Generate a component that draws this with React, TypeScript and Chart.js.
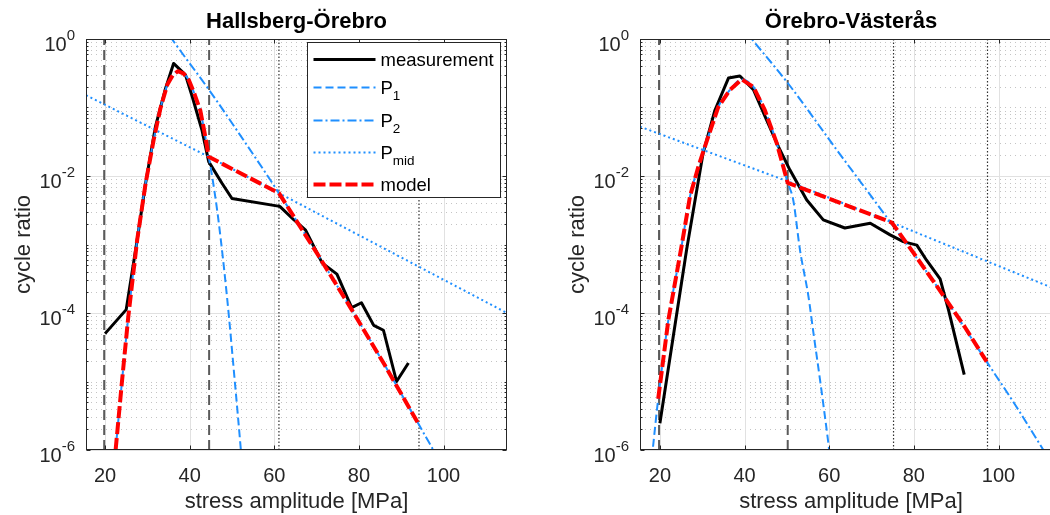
import React, { useEffect, useRef } from "react";
import { Chart, registerables } from "chart.js";

Chart.register(...registerables);

// ---------- axis settings ----------
const Y_MIN = 1e-6;
const Y_MAX = 1;
const X_TICKS = [20, 40, 60, 80, 100];
const Y_TICK_EXPONENTS = [0, -2, -4, -6];
const X_LABEL = "stress amplitude [MPa]";
const Y_LABEL = "cycle ratio";
const LEGEND_ITEMS = [
  { key: "measurement", base: "measurement", sub: "" },
  { key: "p1", base: "P", sub: "1" },
  { key: "p2", base: "P", sub: "2" },
  { key: "pmid", base: "P", sub: "mid" },
  { key: "model", base: "model", sub: "" },
];

// ---------- Hallsberg-Örebro ----------
const HO_TITLE = "Hallsberg-Örebro";
const HO_X_RANGE = [15.5, 115];
const HO_MEAS_X = [20, 25, 27.6, 29.6, 31.9, 34.3, 36.2, 39, 40.6, 42.9, 44.5, 47.6, 50, 61.3, 64.6, 67.4, 71.3, 74.8, 78.3, 80.6, 83.5, 85.8, 88.9, 91.7];
const HO_MEAS_Y = [5.0e-5, 1.12e-4, 1.17e-3, 7.9e-3, 5.2e-2, 0.19, 0.44, 0.3, 0.145, 0.047, 0.0162, 0.0079, 0.0047, 0.0036, 0.0023, 0.00162, 5.4e-4, 3.7e-4, 1.2e-4, 1.41e-4, 6.6e-5, 5.6e-5, 1.0e-5, 1.86e-5];
const HO_MODEL_X = [22.5, 24, 25.5, 27.6, 29.6, 31.5, 33.1, 34.7, 36, 37.2, 38.5, 39.8, 41, 42.5, 43.5, 44.5, 61.1, 70, 78, 86, 94];
const HO_MODEL_Y = [1e-6, 1e-5, 8.9e-5, 1.17e-3, 7.9e-3, 0.0339, 0.0977, 0.214, 0.295, 0.339, 0.316, 0.251, 0.166, 0.0912, 0.0437, 0.0191, 0.00562, 7.6e-4, 1.2e-4, 1.78e-5, 2.45e-6];
const HO_P1_X = [21.5, 22.5, 24, 25.5, 27.6, 29.6, 31.5, 33.1, 34.7, 36, 37.2, 38.5, 39.8, 41, 42.5, 43.5, 44.5, 45.3, 46.5, 47.4, 48.3, 49.2, 50.6, 52.1, 53];
const HO_P1_Y = [2.0e-7, 1e-6, 1e-5, 8.9e-5, 1.17e-3, 7.9e-3, 0.0339, 0.0977, 0.214, 0.295, 0.339, 0.316, 0.251, 0.166, 0.0912, 0.0437, 0.0191, 0.01, 3.16e-3, 1.12e-3, 3.55e-4, 1.0e-4, 1.12e-5, 1.0e-6, 2.0e-7];
const HO_P2_X = [33, 35.8, 44.6, 53, 61.1, 70, 78, 86, 94, 97.6, 99.5];
const HO_P2_Y = [1.78, 1.0, 0.18, 0.0316, 0.00562, 7.6e-4, 1.2e-4, 1.78e-5, 2.45e-6, 1.0e-6, 6.3e-7];
const HO_PMID_X = [15.5, 44.5, 61.1, 94, 115];
const HO_PMID_Y = [0.151, 0.0191, 0.00562, 4.8e-4, 1.0e-4];
const HO_DASHED_X = [19.8, 44.6];
const HO_DOTTED_X = [61.1, 94.2];

// ---------- Örebro-Västerås ----------
const OV_TITLE = "Örebro-Västerås";
const OV_X_RANGE = [15.3, 115];
const OV_MEAS_X = [20, 26.3, 30.2, 33, 36.2, 38.9, 42.1, 45.2, 48, 50.7, 54.7, 58.6, 63.7, 69.7, 74.4, 77.5, 80.7, 83, 86.2, 88.2, 91.9];
const OV_MEAS_Y = [2.45e-6, 8.3e-4, 0.0214, 0.0912, 0.269, 0.288, 0.182, 0.066, 0.0269, 0.0123, 0.00447, 0.00229, 0.00174, 0.00204, 0.00138, 0.0011, 9.8e-4, 5.9e-4, 3.16e-4, 1.1e-4, 1.26e-5];
const OV_MODEL_X = [19.6, 22, 25.1, 27.1, 29.1, 31.4, 33.8, 36.6, 39.3, 42.1, 44.8, 47.6, 50.2, 74.8, 80, 86, 92, 97.2];
const OV_MODEL_Y = [5.6e-6, 7.9e-5, 9.3e-4, 5.0e-3, 0.0138, 0.0372, 0.102, 0.182, 0.257, 0.2, 0.0912, 0.0302, 0.00794, 0.00209, 7.4e-4, 2.19e-4, 6.3e-5, 1.95e-5];
const OV_P1_X = [17.8, 18.3, 19.6, 22, 25.1, 27.1, 29.1, 31.4, 33.8, 36.6, 39.3, 42.1, 44.8, 47.6, 50.2, 51.5, 53.1, 55.1, 56.3, 58, 60, 61];
const OV_P1_Y = [5e-7, 1e-6, 5.6e-6, 7.9e-5, 9.3e-4, 5.0e-3, 0.0138, 0.0372, 0.102, 0.182, 0.257, 0.2, 0.0912, 0.0302, 0.00794, 0.00447, 8.3e-4, 1.74e-4, 5.0e-5, 8.9e-6, 1.0e-6, 3e-7];
const OV_P2_X = [40, 41.7, 50.3, 61.8, 74.4, 86, 97.2, 104, 110.6, 112];
const OV_P2_Y = [1.35, 1.0, 0.224, 0.024, 0.00214, 2.19e-4, 1.95e-5, 4.5e-6, 1.0e-6, 7.2e-7];
const OV_PMID_X = [15.3, 50.3, 74.8, 115];
const OV_PMID_Y = [0.0525, 0.00832, 0.00209, 2.04e-4];
const OV_DASHED_X = [19.8, 50.2];
const OV_DOTTED_X = [75.2, 97.4];

// ---------- styles ----------
const FF = '"Liberation Sans", Arial, Helvetica, sans-serif';
const TEXT_COLOR = "#262626";
const BLUE = "#1f8fff";
const STYLE: Record<string, { color: string; width: number; dash: number[] }> = {
  measurement: { color: "#000000", width: 3, dash: [] },
  p1: { color: BLUE, width: 2, dash: [8, 4] },
  p2: { color: BLUE, width: 2, dash: [9, 3, 2, 3] },
  pmid: { color: BLUE, width: 2, dash: [2, 3] },
  model: { color: "#ff0000", width: 4, dash: [12, 4] },
  vdash: { color: "#5a5a5a", width: 2, dash: [10, 5] },
  vdot: { color: "#303030", width: 1.2, dash: [1.5, 2] },
};

type Panel = {
  title: string;
  xRange: number[];
  canvasLeft: number;
  canvasWidth: number;
  padding: { left: number; top: number; right: number; bottom: number };
  showLegend: boolean;
  measX: number[]; measY: number[];
  modelX: number[]; modelY: number[];
  p1X: number[]; p1Y: number[];
  p2X: number[]; p2Y: number[];
  pmidX: number[]; pmidY: number[];
  dashedX: number[]; dottedX: number[];
};

const CANVAS_H = 515;

const PANELS: Panel[] = [
  {
    title: HO_TITLE, xRange: HO_X_RANGE, canvasLeft: 0, canvasWidth: 520,
    padding: { left: 86, top: 39, right: 13, bottom: 65 }, showLegend: true,
    measX: HO_MEAS_X, measY: HO_MEAS_Y, modelX: HO_MODEL_X, modelY: HO_MODEL_Y,
    p1X: HO_P1_X, p1Y: HO_P1_Y, p2X: HO_P2_X, p2Y: HO_P2_Y, pmidX: HO_PMID_X, pmidY: HO_PMID_Y,
    dashedX: HO_DASHED_X, dottedX: HO_DOTTED_X,
  },
  {
    title: OV_TITLE, xRange: OV_X_RANGE, canvasLeft: 530, canvasWidth: 550,
    padding: { left: 110, top: 39, right: 18, bottom: 65 }, showLegend: false,
    measX: OV_MEAS_X, measY: OV_MEAS_Y, modelX: OV_MODEL_X, modelY: OV_MODEL_Y,
    p1X: OV_P1_X, p1Y: OV_P1_Y, p2X: OV_P2_X, p2Y: OV_P2_Y, pmidX: OV_PMID_X, pmidY: OV_PMID_Y,
    dashedX: OV_DASHED_X, dottedX: OV_DOTTED_X,
  },
];

const toXY = (xs: number[], ys: number[]) => xs.map((x, i) => ({ x, y: ys[i] }));

function lineDs(label: string, data: any[], styleKey: string, order: number, tension = 0) {
  const s = STYLE[styleKey];
  return {
    label,
    data,
    borderColor: s.color,
    borderWidth: s.width,
    borderDash: s.dash,
    borderCapStyle: "butt",
    borderJoinStyle: "round",
    pointRadius: 0,
    fill: false,
    tension,
    cubicInterpolationMode: tension > 0 ? "monotone" : "default",
    order,
  };
}

function drawSegment(ctx: CanvasRenderingContext2D, x1: number, y1: number, x2: number, y2: number) {
  ctx.beginPath();
  ctx.moveTo(x1, y1);
  ctx.lineTo(x2, y2);
  ctx.stroke();
}

function makePlugin(panel: Panel) {
  return {
    id: "matlabLook",
    beforeDatasetsDraw(chart: any) {
      const { ctx, chartArea: a, scales } = chart;
      const xs = scales.x;
      const ys = scales.y;
      ctx.save();
      ctx.fillStyle = "#ffffff";
      ctx.fillRect(a.left, a.top, a.right - a.left, a.bottom - a.top);
      // minor y grid (dotted)
      ctx.strokeStyle = "#c4c4c4";
      ctx.lineWidth = 1;
      ctx.setLineDash([1, 4]);
      for (let e = -6; e < 0; e++) {
        for (let k = 1; k <= 9; k++) {
          if (k === 1 && e % 2 === 0) continue;
          const py = Math.round(ys.getPixelForValue(k * Math.pow(10, e))) + 0.5;
          drawSegment(ctx, a.left, py, a.right, py);
        }
      }
      // major grid (solid)
      ctx.setLineDash([]);
      ctx.strokeStyle = "#e1e1e1";
      for (const t of X_TICKS) {
        const px = Math.round(xs.getPixelForValue(t)) + 0.5;
        drawSegment(ctx, px, a.top, px, a.bottom);
      }
      for (const e of Y_TICK_EXPONENTS) {
        const py = Math.round(ys.getPixelForValue(Math.pow(10, e))) + 0.5;
        drawSegment(ctx, a.left, py, a.right, py);
      }
      ctx.restore();
    },
    afterDraw(chart: any) {
      const { ctx, chartArea: a, scales } = chart;
      const xs = scales.x;
      const ys = scales.y;
      ctx.save();
      ctx.setLineDash([]);
      ctx.strokeStyle = TEXT_COLOR;
      ctx.lineWidth = 1;
      // box
      const L = Math.round(a.left) + 0.5, R = Math.round(a.right) - 0.5;
      const T = Math.round(a.top) + 0.5, B = Math.round(a.bottom) - 0.5;
      ctx.strokeRect(L, T, R - L, B - T);
      // ticks
      for (const t of X_TICKS) {
        const px = Math.round(xs.getPixelForValue(t)) + 0.5;
        drawSegment(ctx, px, B, px, B - 4);
        drawSegment(ctx, px, T, px, T + 4);
      }
      for (let e = -6; e <= 0; e++) {
        for (let k = 1; k <= 9; k++) {
          const v = k * Math.pow(10, e);
          if (v > Y_MAX) continue;
          const py = Math.round(ys.getPixelForValue(v)) + 0.5;
          const len = k === 1 && e % 2 === 0 ? 4 : 2;
          drawSegment(ctx, L, py, L + len, py);
          drawSegment(ctx, R, py, R - len, py);
        }
      }
      ctx.fillStyle = TEXT_COLOR;
      // x tick labels
      ctx.font = `20px ${FF}`;
      ctx.textAlign = "center";
      ctx.textBaseline = "alphabetic";
      for (const t of X_TICKS) {
        ctx.fillText(String(t), xs.getPixelForValue(t), a.bottom + 32);
      }
      // y tick labels 10^e
      for (const e of Y_TICK_EXPONENTS) {
        const py = ys.getPixelForValue(Math.pow(10, e));
        const sup = String(e);
        ctx.font = `20px ${FF}`;
        const wb = ctx.measureText("10").width;
        ctx.font = `15px ${FF}`;
        const wsup = ctx.measureText(sup).width;
        const x0 = a.left - 11 - wb - wsup;
        ctx.textAlign = "left";
        ctx.font = `20px ${FF}`;
        ctx.fillText("10", x0, py + 12);
        ctx.font = `15px ${FF}`;
        ctx.fillText(sup, x0 + wb, py + 1);
      }
      // x axis label
      ctx.font = `22px ${FF}`;
      ctx.textAlign = "center";
      ctx.fillText(X_LABEL, (a.left + a.right) / 2, a.bottom + 58);
      // y axis label
      ctx.save();
      ctx.translate(a.left - 56, (a.top + a.bottom) / 2);
      ctx.rotate(-Math.PI / 2);
      ctx.fillText(Y_LABEL, 0, 0);
      ctx.restore();
      // title
      ctx.fillStyle = "#000000";
      ctx.font = `bold 22px ${FF}`;
      ctx.textAlign = "center";
      ctx.fillText(panel.title, (a.left + a.right) / 2, a.top - 11);

      // legend
      if (panel.showLegend) {
        const bw = 193, bh = 155;
        const bx = Math.round(a.right - 200) + 0.5;
        const by = Math.round(a.top + 3) + 0.5;
        ctx.fillStyle = "#ffffff";
        ctx.fillRect(bx, by, bw, bh);
        ctx.strokeStyle = TEXT_COLOR;
        ctx.lineWidth = 1;
        ctx.setLineDash([]);
        ctx.strokeRect(bx, by, bw, bh);
        const rowY = [17, 45, 78, 110, 142];
        LEGEND_ITEMS.forEach((item, i) => {
          const cy = by + rowY[i];
          const s = STYLE[item.key];
          ctx.strokeStyle = s.color;
          ctx.lineWidth = s.width;
          ctx.setLineDash(s.dash);
          drawSegment(ctx, bx + 6, cy, bx + 68, cy);
          ctx.setLineDash([]);
          ctx.fillStyle = "#000000";
          ctx.textAlign = "left";
          ctx.font = `18.5px ${FF}`;
          ctx.fillText(item.base, bx + 73, cy + 6);
          if (item.sub) {
            const w = ctx.measureText(item.base).width;
            ctx.font = `13.5px ${FF}`;
            ctx.fillText(item.sub, bx + 73 + w, cy + 12);
          }
        });
      }
      ctx.restore();
    },
  };
}

function PanelChart({ panel }: { panel: Panel }) {
  const ref = useRef<HTMLCanvasElement | null>(null);
  useEffect(() => {
    if (!ref.current) return;
    const vline = (v: number) => [{ x: v, y: Y_MIN }, { x: v, y: Y_MAX }];
    const datasets: any[] = [
      lineDs("model", toXY(panel.modelX, panel.modelY), "model", 0),
      lineDs("P_1", toXY(panel.p1X, panel.p1Y), "p1", 1, 0.3),
      lineDs("P_2", toXY(panel.p2X, panel.p2Y), "p2", 2, 0.3),
      lineDs("P_mid", toXY(panel.pmidX, panel.pmidY), "pmid", 3),
      lineDs("measurement", toXY(panel.measX, panel.measY), "measurement", 4),
      ...panel.dashedX.map((v) => lineDs("limit", vline(v), "vdash", 5)),
      ...panel.dottedX.map((v) => lineDs("range", vline(v), "vdot", 5)),
    ];
    const chart = new Chart(ref.current, {
      type: "line",
      data: { datasets },
      options: {
        animation: false,
        responsive: false,
        maintainAspectRatio: false,
        devicePixelRatio: 1,
        layout: { padding: panel.padding },
        scales: {
          x: { type: "linear", min: panel.xRange[0], max: panel.xRange[1], display: false },
          y: { type: "logarithmic", min: Y_MIN, max: Y_MAX, display: false },
        },
        plugins: {
          legend: { display: false },
          tooltip: { enabled: false },
          title: { display: false },
        },
        events: [],
      },
      plugins: [makePlugin(panel)],
    } as any);
    return () => chart.destroy();
  }, [panel]);
  return (
    <canvas
      ref={ref}
      width={panel.canvasWidth}
      height={CANVAS_H}
      style={{ position: "absolute", left: panel.canvasLeft, top: 0, width: panel.canvasWidth, height: CANVAS_H }}
    />
  );
}

export default function App() {
  return (
    <div
      style={{
        position: "absolute",
        left: 0,
        top: 0,
        width: 1050,
        height: 515,
        overflow: "hidden",
        background: "#ffffff",
      }}
    >
      {PANELS.map((p, i) => (
        <PanelChart key={i} panel={p} />
      ))}
    </div>
  );
}
